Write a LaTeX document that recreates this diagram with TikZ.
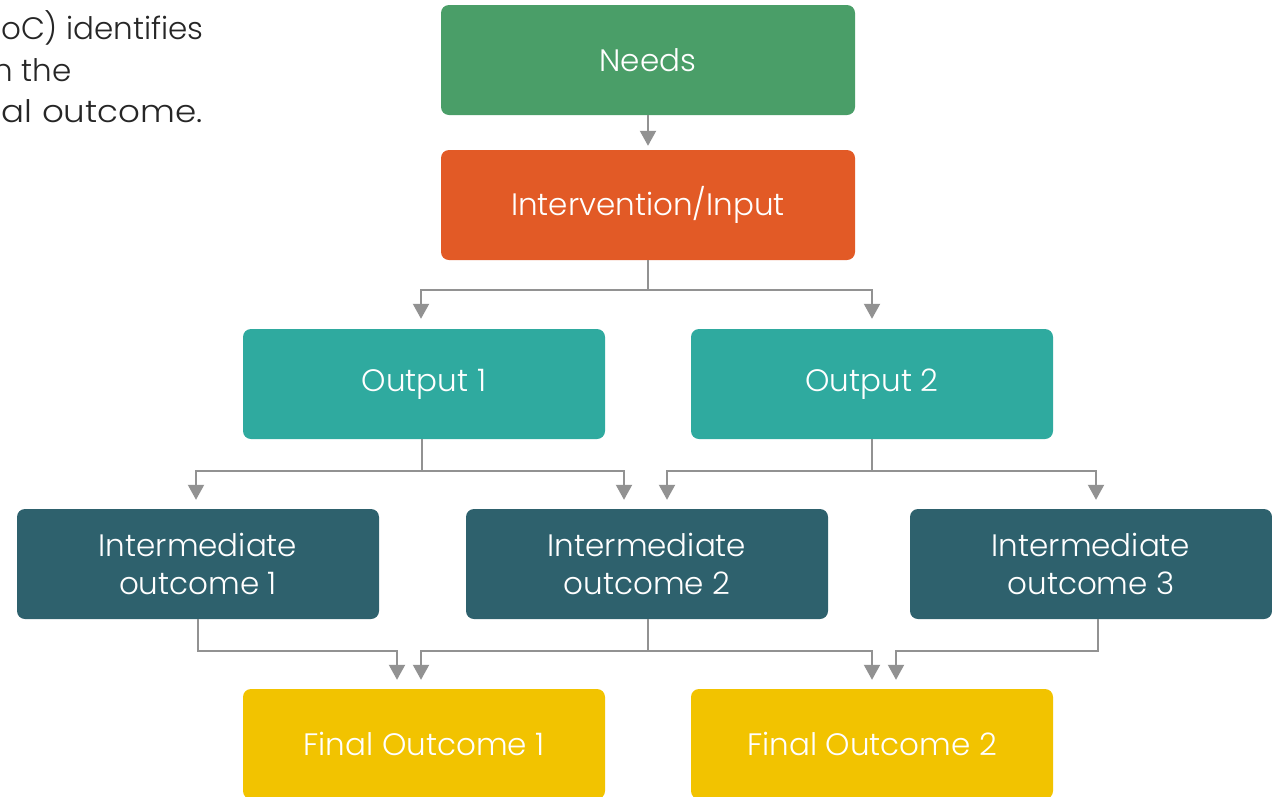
\documentclass[tikz,border=0pt]{standalone}
\usepackage{fontspec}
\setmainfont{Poppins}[UprightFont={* Light}]
\usetikzlibrary{arrows.meta}
\definecolor{cgreen}{HTML}{4A9E68}
\definecolor{corange}{HTML}{E25A26}
\definecolor{cteal}{HTML}{2FAA9F}
\definecolor{cdark}{HTML}{2E616D}
\definecolor{cyellow}{HTML}{F2C300}
\definecolor{cline}{HTML}{929292}
\definecolor{ctext}{HTML}{262626}
\tikzset{
  box/.style={rounded corners=8pt, minimum height=110pt, inner sep=0pt, align=center,
    text=white, font=\fontsize{31}{38}\selectfont},
  wide/.style={box, minimum width=414pt},
  narrow/.style={box, minimum width=362pt},
  conn/.style={draw=cline, line width=2pt, -{Triangle[width=16pt,length=15pt]}},
  para/.style={anchor=base east, inner sep=0pt, text=ctext, font=\fontsize{31}{38}\selectfont},
}
\begin{document}
\begin{tikzpicture}[x=1pt,y=-1pt]
\useasboundingbox (0,0) rectangle (1272,796);
\clip (0,0) rectangle (1272,796);
% intro text (cut at left edge)
\node[para] (t1) at (204,39) {oC) identifies};
\node[para] (t2) at (72,81) {n the};
\node[para, xscale=1.1] (t3) at (203,122) {al outcome.};
% boxes
\node[wide, fill=cgreen] (needs) at (648,60) {Needs};
\node[wide, fill=corange] (inter) at (648,205) {Intervention/Input};
\node[narrow, fill=cteal] (o1) at (424,384) {Output 1};
\node[narrow, fill=cteal] (o2) at (872,384) {Output 2};
\node[narrow, fill=cdark] (i1) at (198,564) {Intermediate\\outcome 1};
\node[narrow, fill=cdark] (i2) at (647,564) {Intermediate\\outcome 2};
\node[narrow, fill=cdark] (i3) at (1091,564) {Intermediate\\outcome 3};
\node[narrow, fill=cyellow] (f1) at (424,744) {Final Outcome 1};
\node[narrow, fill=cyellow] (f2) at (872,744) {Final Outcome 2};
% connectors
\draw[conn] (needs.south) -- ([yshift=4pt]inter.north);
\draw[conn] (inter.south) -- ++(0,30) -| ([xshift=-3pt,yshift=10pt]o1.north);
\draw[conn] (inter.south) -- ++(0,30) -| ([yshift=10pt]o2.north);
\draw[conn] ([xshift=-2pt]o1.south) -- ++(0,32) -| ([xshift=-2pt,yshift=9pt]i1.north);
\draw[conn] ([xshift=-2pt]o1.south) -- ++(0,32) -| ([xshift=-23pt,yshift=9pt]i2.north);
\draw[conn] (o2.south) -- ++(0,32) -| ([xshift=20pt,yshift=9pt]i2.north);
\draw[conn] (o2.south) -- ++(0,32) -| ([xshift=5pt,yshift=9pt]i3.north);
\draw[conn] (i1.south) -- ++(0,32) -| ([xshift=-27pt,yshift=9pt]f1.north);
\draw[conn] ([xshift=1pt]i2.south) -- ++(0,32) -| ([xshift=-3pt,yshift=9pt]f1.north);
\draw[conn] ([xshift=1pt]i2.south) -- ++(0,32) -| ([yshift=9pt]f2.north);
\draw[conn] ([xshift=7pt]i3.south) -- ++(0,32) -| ([xshift=24pt,yshift=9pt]f2.north);
\end{tikzpicture}
\end{document}
